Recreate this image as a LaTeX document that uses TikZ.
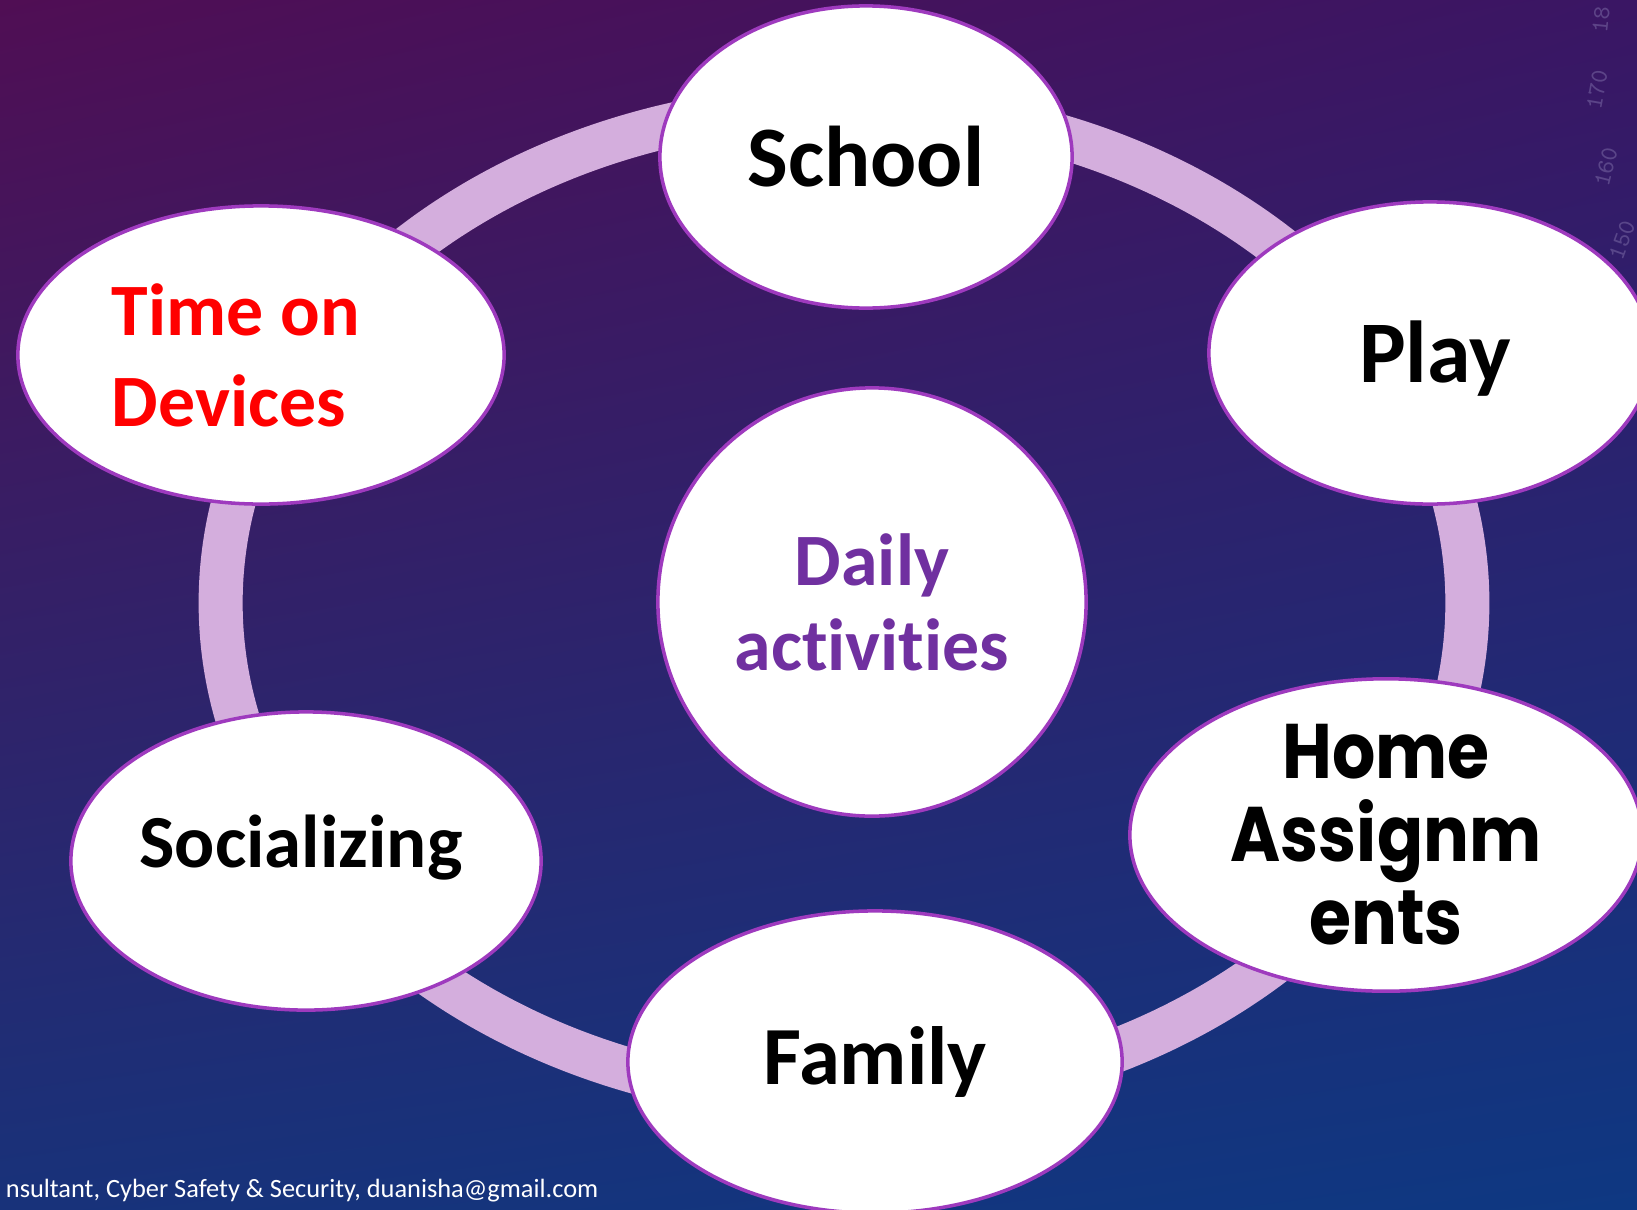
\documentclass[tikz,border=0pt]{standalone}
\usepackage{fontspec}
\setmainfont{Carlito}[Ligatures=NoCommon]
\newfontfamily\geofont{Poppins}[FakeStretch=0.88]
\usetikzlibrary{shapes.geometric,shadings,positioning}

\definecolor{bordercol}{RGB}{158,58,190}
\definecolor{ringcol}{RGB}{212,174,221}
\definecolor{hubtext}{RGB}{112,48,160}
\definecolor{bgtl}{RGB}{80,14,84}
\definecolor{bgtr}{RGB}{58,22,100}
\definecolor{bgbl}{RGB}{24,50,122}
\definecolor{bgbr}{RGB}{14,56,130}
\definecolor{rulercol}{RGB}{128,112,170}

\begin{document}
\begin{tikzpicture}[x=0.01cm,y=-0.01cm,
    bubble/.style={ellipse,draw=bordercol,line width=1pt,fill=white,inner sep=0pt},
    ringline/.style={ellipse,draw=ringcol,line width=0.44cm,inner sep=0pt},
    rulernum/.style={text=rulercol,opacity=.5,inner sep=0pt,font=\ttfamily\fontsize{7}{8}\selectfont}]
        % Background of the slide
        \useasboundingbox (0,0) rectangle (1637,1209);
        \clip (0,0) rectangle (1637,1209);
        \shade[upper left=bgtl,upper right=bgtr,lower left=bgbl,lower right=bgbr]
          (0,0) rectangle (1637,1209);

        % faint protractor numbers, top right
        \node[rulernum,rotate=84] (r180) at (1601,20)  {18};
        \node[rulernum,rotate=80] (r170) at (1597,90)  {170};
        \node[rulernum,rotate=76] (r160) at (1606,167) {160};
        \node[rulernum,rotate=70] (r150) at (1622,240) {150};

        % the ring behind the bubbles
        \node[ringline,minimum width=12.46cm,minimum height=9.94cm] (ring) at (844,603) {};

        % Bubbles round the ring
        \node[bubble,minimum width=4.12cm,minimum height=3.02cm,
              font=\bfseries\fontsize{24.5}{30}\selectfont] (school) at (866,157) {School};
        \node[bubble,minimum width=4.42cm,minimum height=3.02cm] (play) at (1430,353) {};
        \node[font=\bfseries\fontsize{25}{30}\selectfont]
              (playtext) at ([xshift=0.05cm,yshift=-0.06cm]play.center) {Play};
        \node[bubble,minimum width=5.12cm,minimum height=2.98cm,align=center,
              font=\geofont\bfseries\fontsize{22}{23.6}\selectfont] (homework) at (1386,835)
              {Home\\Assignm\\ents};
        \node[bubble,minimum width=4.94cm,minimum height=3.02cm,
              font=\bfseries\fontsize{23.5}{26}\selectfont] (family) at (875,1062) {Family};
        \node[bubble,minimum width=4.70cm,minimum height=2.98cm] (social) at (306,861) {};
        \node[font=\bfseries\fontsize{21.3}{26}\selectfont]
              (socialtext) at ([xshift=-0.05cm,yshift=0.13cm]social.center) {Socializing};
        \node[bubble,minimum width=4.86cm,minimum height=2.98cm] (devices) at (261,355) {};
        \node[font=\bfseries\fontsize{21}{25.8}\selectfont,text=red,align=left]
              (devicestext) at ([xshift=-0.25cm]devices.center) {Time on\\Devices};

        % centre circle
        \node[bubble,circle,minimum size=4.28cm,align=center,text=hubtext,
              font=\bfseries\fontsize{21}{24.1}\selectfont] (daily) at (872,602)
              {Daily\\activities};

        % footer
        \node[anchor=base east,text=white,inner sep=0pt,font=\fontsize{7.5}{9}\selectfont]
              (credit) at (599,1197) {nsultant, Cyber Safety \& Security, duanisha@gmail.com};
\end{tikzpicture}
\end{document}
